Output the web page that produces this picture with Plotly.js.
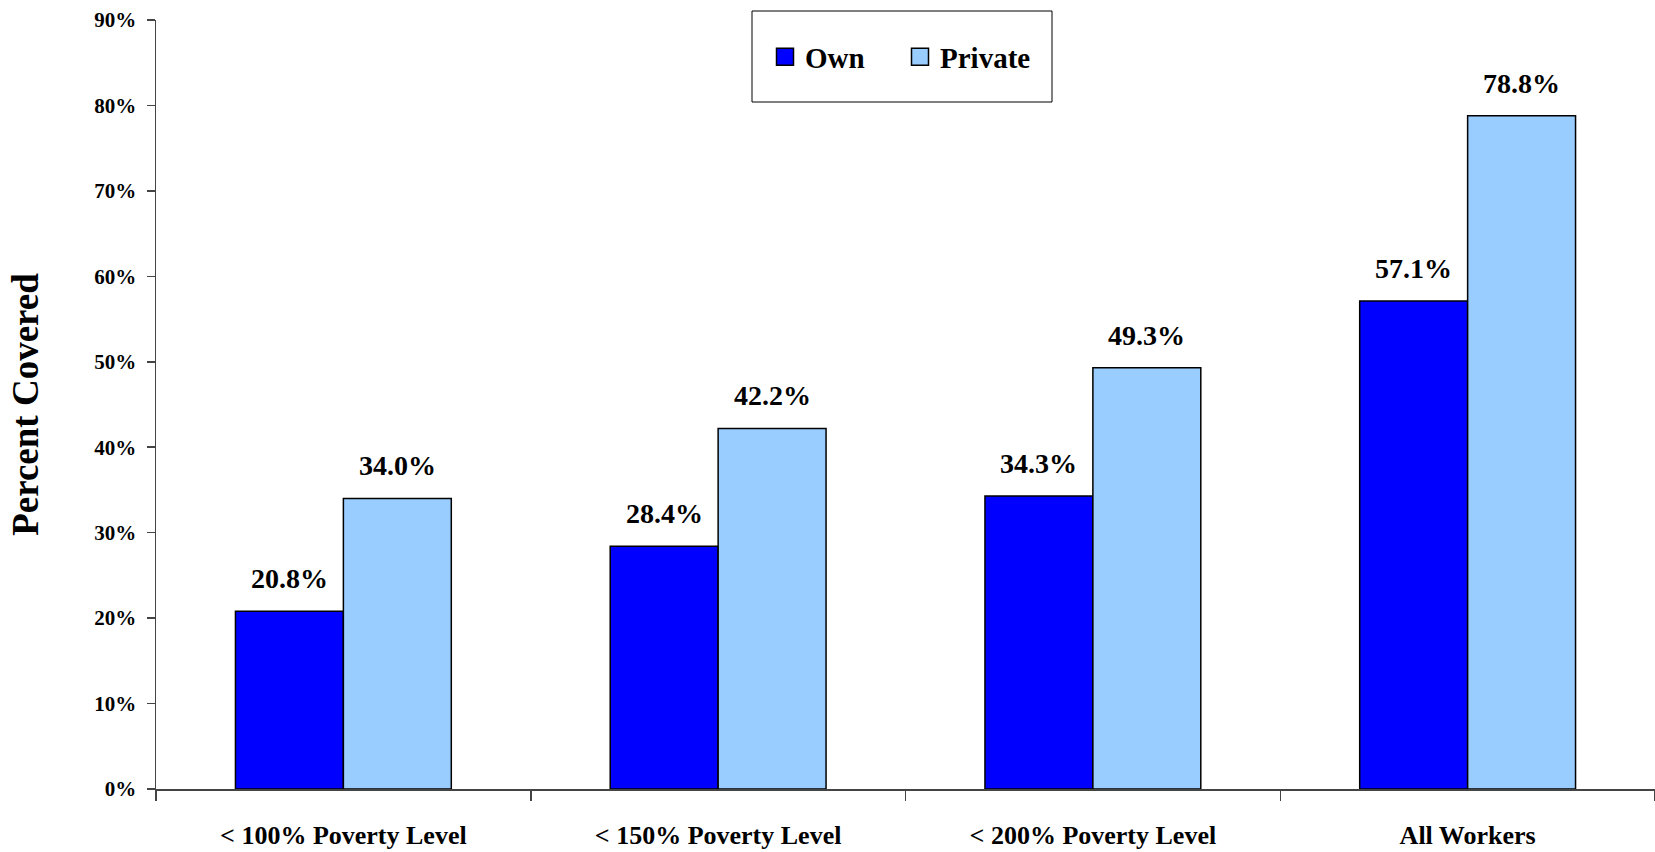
<!DOCTYPE html>
<html>
<head>
<meta charset="utf-8">
<script src="https://cdn.plot.ly/plotly-3.0.1.min.js"></script>
<style>html,body{margin:0;padding:0;background:#fff;}#chart{width:1655px;height:852px;}</style>
</head>
<body>
<div id="chart"></div>
<script>
var categories = ["< 100% Poverty Level", "< 150% Poverty Level", "< 200% Poverty Level", "All Workers"];
var ownValues = [20.8, 28.4, 34.3, 57.1];
var privateValues = [34.0, 42.2, 49.3, 78.8];
var yTickValues = [0, 10, 20, 30, 40, 50, 60, 70, 80, 90];
var yTickLabels = ["0%", "10%", "20%", "30%", "40%", "50%", "60%", "70%", "80%", "90%"];

var FONT = "'Liberation Serif', 'Times New Roman', serif";
var W = 1655, H = 852;
var margin = {l: 156, r: 0, t: 20, b: 63};
var plotW = W - margin.l - margin.r;
var bargap = 0.424;
var barPx = plotW / categories.length * (1 - bargap) / 2;

var traces = [
  {type: "bar", name: "Own", x: categories, y: ownValues, legend: "legend",
   marker: {color: "#0000FF", line: {color: "#000", width: 1.5}}, hoverinfo: "y"},
  {type: "bar", name: "Private", x: categories, y: privateValues, legend: "legend2",
   marker: {color: "#99CCFF", line: {color: "#000", width: 1.5}}, hoverinfo: "y"}
];

var annotations = [];
[ownValues, privateValues].forEach(function (vals, si) {
  vals.forEach(function (v, i) {
    annotations.push({
      x: categories[i], y: v, xref: "x", yref: "y",
      text: v.toFixed(1) + "%", showarrow: false,
      xanchor: "center", yanchor: "bottom",
      xshift: (si === 0 ? -1 : 1) * barPx / 2, yshift: 15,
      font: {family: FONT, size: 28, color: "#000", weight: "bold"}
    });
  });
});

var plotH = H - margin.t - margin.b;
function px2x(p) { return (p - margin.l) / plotW; }
function px2y(p) { return (H - margin.b - p) / plotH; }

var legendFont = {family: FONT, size: 29, color: "#000", weight: "bold"};
var layout = {
  width: W, height: H, margin: margin,
  paper_bgcolor: "#fff", plot_bgcolor: "#fff",
  barmode: "group", bargap: bargap, bargroupgap: 0,
  font: {family: FONT, color: "#000", weight: "bold"},
  showlegend: true,
  legend: {
    orientation: "h", x: px2x(765), y: px2y(57), xanchor: "left", yanchor: "middle",
    font: legendFont, bgcolor: "rgba(0,0,0,0)", borderwidth: 0, itemclick: false
  },
  legend2: {
    orientation: "h", x: px2x(900), y: px2y(57), xanchor: "left", yanchor: "middle",
    font: legendFont, bgcolor: "rgba(0,0,0,0)", borderwidth: 0, itemclick: false
  },
  shapes: [{
    type: "rect", xref: "paper", yref: "paper",
    x0: px2x(752), x1: px2x(1052), y0: px2y(102), y1: px2y(11),
    line: {color: "#000", width: 1}, fillcolor: "#fff", layer: "below"
  }],
  xaxis: {
    type: "category", showgrid: false, zeroline: false,
    showline: true, linecolor: "#444", linewidth: 1.5,
    ticks: "outside", tickson: "boundaries", ticklen: 10, tickcolor: "#444", tickwidth: 1.5,
    ticklabelstandoff: 22,
    tickfont: {family: FONT, size: 26, color: "#000", weight: "bold"}
  },
  yaxis: {
    range: [0, 90], showgrid: false, zeroline: false,
    showline: true, linecolor: "#444", linewidth: 1.5,
    ticks: "outside", ticklen: 8, tickcolor: "#444", tickwidth: 1.5,
    tickmode: "array", tickvals: yTickValues, ticktext: yTickLabels,
    ticklabelstandoff: 6,
    tickfont: {family: FONT, size: 21, color: "#000", weight: "bold"},
    title: {text: "Percent Covered", standoff: 44,
            font: {family: FONT, size: 37, color: "#000", weight: "bold"}}
  },
  annotations: annotations
};

Plotly.newPlot("chart", traces, layout, {displayModeBar: false, staticPlot: true}).then(function (gd) {
  gd.querySelectorAll(".legendpoints path").forEach(function (p) {
    p.setAttribute("d", "M8.5,8.5H-8.5V-8.5H8.5Z");
  });
});
</script>
</body>
</html>
